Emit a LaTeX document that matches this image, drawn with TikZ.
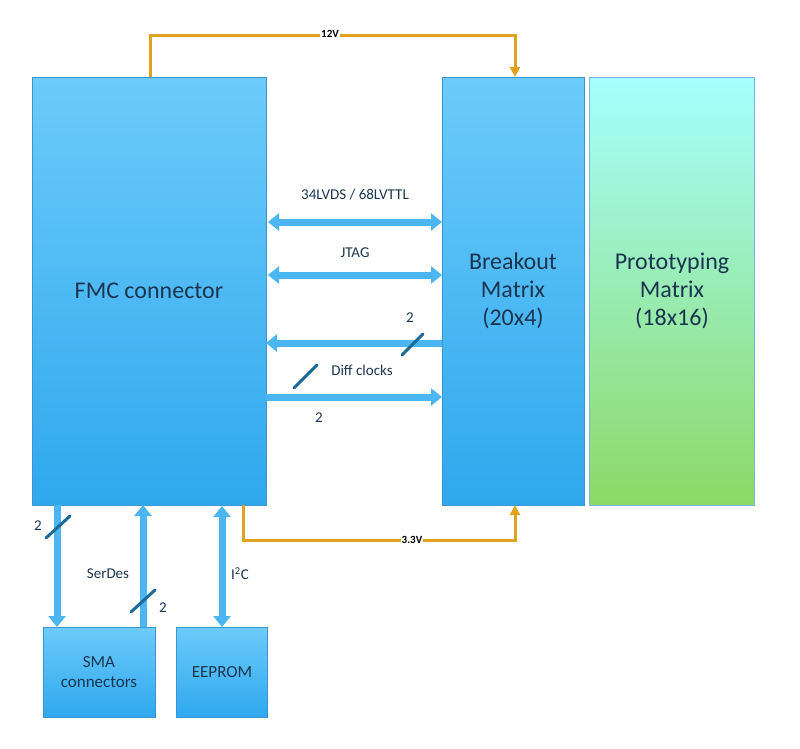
\documentclass[tikz,border=0pt]{standalone}
\usepackage{fontspec}
\setmainfont{Carlito}
\usetikzlibrary{arrows.meta}
\definecolor{bl}{HTML}{4BB6F2}
\definecolor{bltop}{HTML}{6CCBFA}
\definecolor{blbot}{HTML}{2FA8EE}
\definecolor{bord}{HTML}{3A95D0}
\definecolor{tx}{HTML}{1B3550}
\definecolor{og}{HTML}{E0A020}
\definecolor{sl}{HTML}{1A6A9A}
\begin{document}
\begin{tikzpicture}[x=1pt,y=-1pt,
 box/.style={draw=bord,top color=bltop,bottom color=blbot,inner sep=0pt,text=tx,align=center},
 fat/.style={line width=7pt,draw=bl,-{Triangle[length=11pt,width=17pt]}},
 fatd/.style={line width=7pt,draw=bl,{Triangle[length=11pt,width=17pt]}-{Triangle[length=11pt,width=17pt]}},
 pw/.style={line width=3pt,draw=og,-{Triangle[length=10pt,width=10pt]}},
 slash/.style={line width=3pt,draw=sl,line cap=round},
 lab/.style={text=tx,font=\fontsize{15}{17}\selectfont}]
\useasboundingbox (0,0) rectangle (800,748);
\node[box,minimum width=234pt,minimum height=428pt,font=\fontsize{24}{28}\selectfont] (fmc) at (149,291) {FMC connector};
\node[box,minimum width=142pt,minimum height=428pt,font=\fontsize{24}{28}\selectfont] (bm) at (513,291) {Breakout\\Matrix\\(20x4)};
\node[draw=bord!70,top color=cyan!35!white,bottom color=green!50!olive!60,minimum width=165pt,minimum height=428pt,inner sep=0pt,text=tx,align=center,font=\fontsize{24}{28}\selectfont] (pm) at (672,291) {Prototyping\\Matrix\\(18x16)};
\node[box,minimum width=112pt,minimum height=90pt,font=\fontsize{17}{20}\selectfont] (sma) at (99,672) {SMA\\connectors};
\node[box,minimum width=91pt,minimum height=90pt,font=\fontsize{17}{20}\selectfont] (ee) at (222,672) {EEPROM};
% horizontal
\coordinate (a1) at (268,222); \coordinate (b1) at (442,222);
\coordinate (a2) at (268,275); \coordinate (b2) at (442,275);
\coordinate (a3) at (266,343); \coordinate (b3) at (442,343);
\coordinate (a4) at (266,397); \coordinate (b4) at (442,397);
\draw[fatd] (a1) -- (b1);
\draw[fatd] (a2) -- (b2);
\draw[fat] (b3) -- (a3);
\draw[fat] (a4) -- (b4);
\node[lab] (l1) at (355,195) {34LVDS / 68LVTTL};
\node[lab] (l2) at (355,253) {JTAG};
\node[lab] (l3) at (362,370) {Diff clocks};
\draw[slash] (402,355) -- (423,334);
\node[lab] (n1) at (410,318) {2};
\draw[slash] (294,388) -- (317,365);
\node[lab] (n2) at (319,418) {2};
% vertical
\coordinate (v1) at (57,505); \coordinate (w1) at (57,627);
\coordinate (v2) at (143,627); \coordinate (w2) at (143,505);
\coordinate (v3) at (222,506); \coordinate (w3) at (222,627);
\draw[fat] (v1) -- (w1);
\draw[fat] (v2) -- (w2);
\draw[fatd] (v3) -- (w3);
\draw[slash] (46,538) -- (70,516);
\node[lab] (n3) at (38,526) {2};
\draw[slash] (131,612) -- (155,590);
\node[lab] (n4) at (163,608) {2};
\node[lab] (sd) at (108,574) {SerDes};
\node[lab] (i2) at (240,574) {I\textsuperscript{2}C};
% power
\coordinate (p1) at (150,77); \coordinate (p2) at (515,77);
\draw[pw] (p1) -- (150,35) -- (515,35) -- (p2);
\node[fill=white,inner sep=1pt,text=black,font=\bfseries\fontsize{11}{13}\selectfont] (v12) at (330,34) {12V};
\coordinate (q1) at (243,505); \coordinate (q2) at (515,505);
\draw[pw] (q1) -- (243,540) -- (515,540) -- (q2);
\node[fill=white,inner sep=1pt,text=black,font=\bfseries\fontsize{11}{13}\selectfont] (v33) at (412,540) {3.3V};
\end{tikzpicture}
\end{document}
